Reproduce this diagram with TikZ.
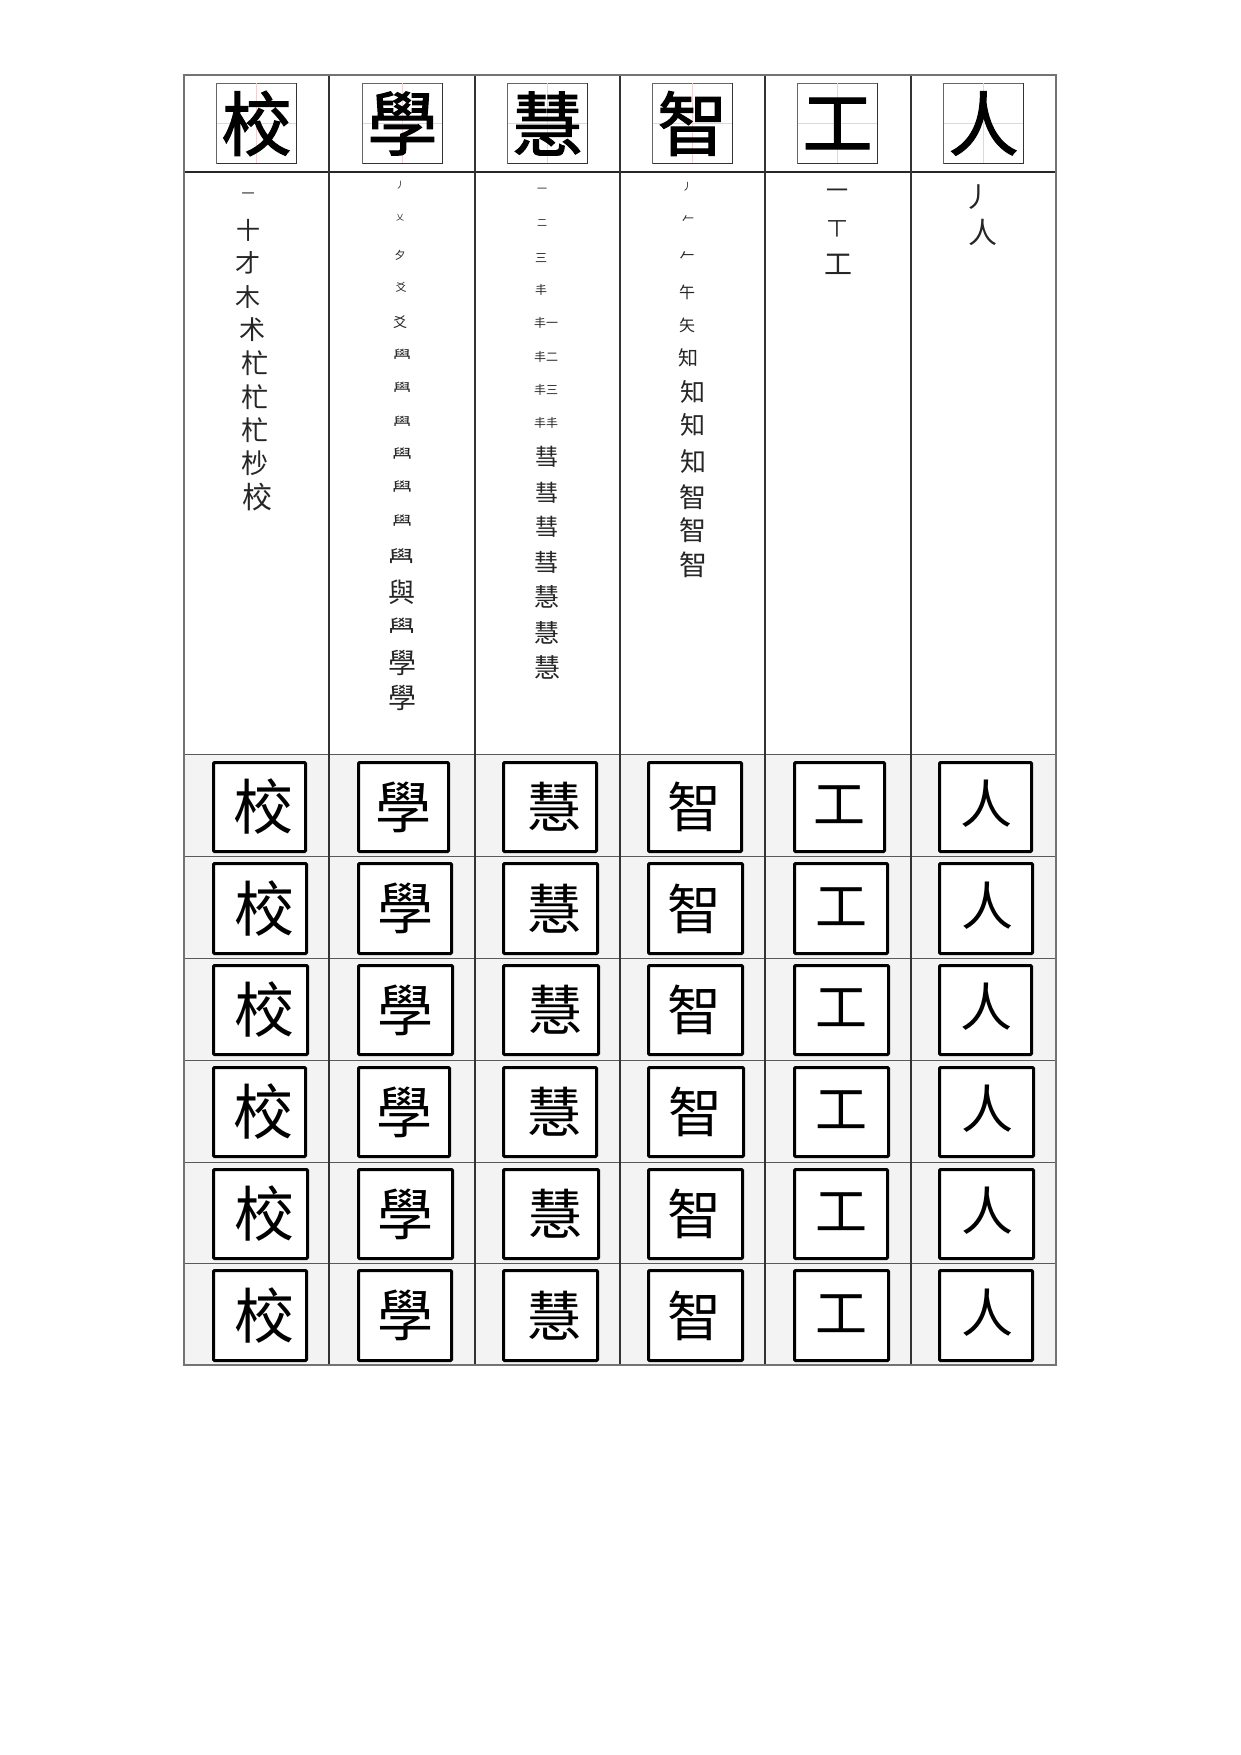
\documentclass[tikz,border=0pt]{standalone}
\usepackage{fontspec}
\newfontfamily\cjk{Noto Sans CJK TC}
\newfontfamily\cjkhead[FakeBold=1.6]{Noto Sans CJK TC}
\newcommand{\seqfont}[1]{\fontsize{#1}{#1}\cjk\selectfont}
\definecolor{guidepink}{HTML}{F2D0D0}
\definecolor{rowgray}{HTML}{F3F3F3}
\tikzset{
  headbox/.style={draw=black!60,line width=1pt,minimum size=80pt,inner sep=0pt,outer sep=0pt},
  headedge/.style={draw=black!80,line width=1.2pt},
  headglyph/.style={inner sep=0pt,font=\fontsize{70}{70}\cjkhead\selectfont},
  handbox/.style={draw=black,line width=3pt,rounded corners=1pt,fill=white,inner sep=0pt,outer sep=0pt},
  handglyph/.style={inner sep=0pt},
  seqglyph/.style={inner sep=0pt,text=black!85},
  gridline/.style={draw=black!65,line width=1pt},
  guideline/.style={draw=guidepink,line width=.8pt}
}
\begin{document}
\begin{tikzpicture}[x=1pt,y=-1pt]
  \useasboundingbox (0,0) rectangle (1240,1755);
  \fill[rowgray] (184,754) rectangle (1056,1365);
  % table rules
  \foreach \y in {754,856,958,1060,1162,1263}
    \draw[gridline] (184,\y) -- (1056,\y);
  \draw[gridline,draw=black!85,line width=1.2pt] (184,172) -- (1056,172);
  \foreach \x in {329,475,620,765,911}
    \draw[gridline,draw=black!80,line width=1.2pt] (\x,75) -- (\x,1365);
  \draw[gridline,draw=black!55,line width=1.2pt] (184,75) rectangle (1056,1365);

  % printed characters on top
  \foreach \x/\glyph [count=\c] in {256.5/校,402.5/學,547.5/慧,692.5/智,837.5/工,983.5/人} {
    \node[headbox] (head\c) at (\x,123.5) {};
    \draw[guideline] (head\c.north) -- (head\c.south) (head\c.west) -- (head\c.east);
    \draw[headedge] (head\c.south west) -- (head\c.south east) -- (head\c.north east);
    \node[headglyph] (print\c) at (head\c) {\glyph};
  }

  % stroke order columns
  \foreach \x/\y/\size/\glyph [count=\n] in {
    248/196/13/一,248/230/24/十,248/263/25/才,248/297/25/木,252/330/26/术,
    255/363/27/杧,255/397/27/杧,255/430/27/杧,255/463/27/杪,257/497/30/校}
    \node[seqglyph,font=\seqfont{\size}] (xiao\n) at (\x,\y) {\glyph};
  \foreach \x/\y/\size/\glyph [count=\n] in {
    400/185/9/丿,400/218/8/乂,400/255/11/夕,401/287/11/爻,400/322/14/爻,
    402/355/18/𦥯,402/388/18/𦥯,402/422/18/𦥯,402/455/20/𦥯,402/488/20/𦥯,
    402/522/20/𦥯,401/558/26/𦥯,402/592/27/與,402/627/27/𦥯,402/663/28/學,402/698/28/學}
    \node[seqglyph,font=\seqfont{\size}] (xue\n) at (\x,\y) {\glyph};
  \foreach \x/\y/\size/\glyph [count=\n] in {
    542/190/10/一,542/223/10/二,541/258/12/三,541/290/12/丰,546/323/12/丰一,
    546/357/12/丰二,546/390/12/丰三,546/423/12/丰丰,547/457/23/彗,547/493/23/彗,
    547/527/23/彗,546/562/24/彗,547/597/25/慧,547/633/25/慧,547/667/26/慧}
    \node[seqglyph,font=\seqfont{\size}] (hui\n) at (\x,\y) {\glyph};
  \foreach \x/\y/\size/\glyph [count=\n] in {
    687/187/10/丿,688/220/12/𠂉,687/257/15/𠂉,687/292/16/午,687/325/16/矢,
    688/358/20/知,693/392/25/知,693/425/25/知,693/462/26/知,693/497/27/智,
    693/530/27/智,693/565/28/智}
    \node[seqglyph,font=\seqfont{\size}] (zhi\n) at (\x,\y) {\glyph};
  \foreach \x/\y/\size/\glyph [count=\n] in {837/194/22/一,837/229/20/丅,838/264/28/工}
    \node[seqglyph,font=\seqfont{\size}] (gong\n) at (\x,\y) {\glyph};
  \foreach \x/\y/\size/\glyph [count=\n] in {977/197/28/丿,983/232/29/人}
    \node[seqglyph,font=\seqfont{\size}] (ren\n) at (\x,\y) {\glyph};

  % handwritten samples
  \foreach \ya/\yb/\cells [count=\r] in {
    761/853/{212/307,357/450,502/598,647/743,793/886,938/1033},
    862/955/{212/308,357/453,502/599,647/744,793/889,938/1034},
    964/1056/{212/309,357/454,502/600,647/744,793/890,938/1033},
    1066/1158/{212/307,357/451,502/598,647/745,793/890,938/1035},
    1168/1260/{212/309,357/454,502/600,647/744,793/889,938/1035},
    1269/1362/{212/308,357/453,502/599,647/744,793/890,938/1034}} {
    \foreach \xa/\xb [count=\c] in \cells {
      \node[handbox,minimum width={(\xb-\xa-3)*1pt},minimum height={(\yb-\ya-3)*1pt}]
        (hand\r\c) at ({(\xa+\xb)/2},{(\ya+\yb)/2}) {};
    }
  }
  \foreach \c/\glyph/\size/\dx/\dy in {1/校/60/4/0,2/學/56/0/0,3/慧/54/4/0,4/智/54/-1/0,5/工/52/0/2,6/人/52/1/3} {
    \foreach \r in {1,...,6}
      \node[handglyph,font=\seqfont{\size}] (sample\r\c) at ([xshift=\dx pt,yshift=\dy pt]hand\r\c) {\glyph};
  }
\end{tikzpicture}
\end{document}
